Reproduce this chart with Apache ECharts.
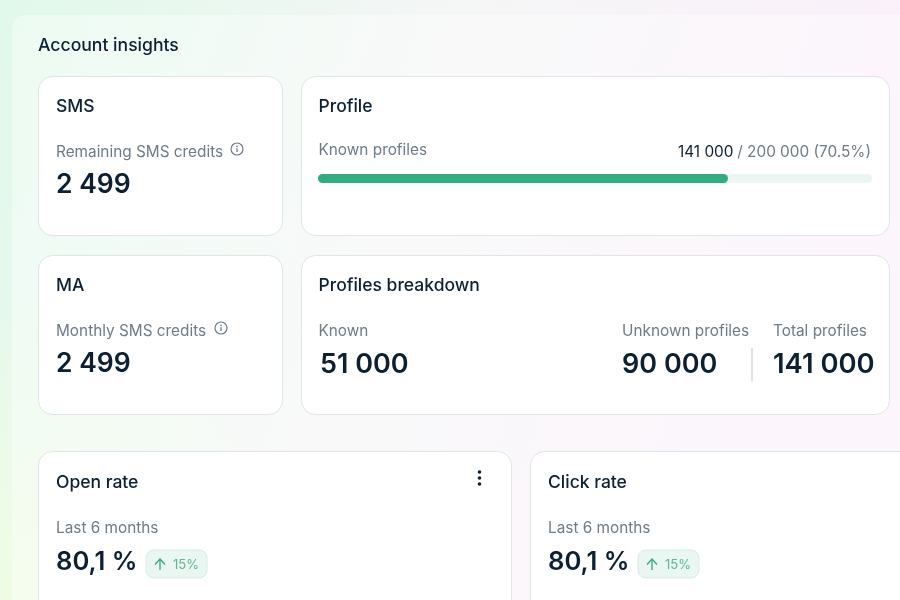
<!DOCTYPE html>
<html>
<head>
<meta charset="utf-8">
<title>Account insights</title>
<style>
html, body { margin: 0; padding: 0; background: #fff; }
#chart { width: 900px; height: 600px; }
</style>
<script src="https://cdn.jsdelivr.net/npm/echarts@6/dist/echarts.min.js"></script>
</head>
<body>
<div id="chart"></div>
<script>
var progressCategories = ['Known profiles'];
// the bar in the picture ends at about 74% of its track, not at the 70.5% it prints
var progressBarValues = [148000];
var progressTrackValues = [200000];

var smsCredits = '2 499';
var maCredits = '2 499';
var profileSummary = ['141 000', '/ 200 000 (70.5%)'];
var breakdownLabels = ['Known', 'Unknown profiles', 'Total profiles'];
var breakdownValues = ['51 000', '90 000', '141 000'];
var rateTitles = ['Open rate', 'Click rate'];
var rateValues = ['80,1 %', '80,1 %'];
var rateChanges = ['15%', '15%'];

var FONT = 'Inter';
var DARK = '#0c1f33';
var GRAY = '#6e7b88';

var chart = echarts.init(document.getElementById('chart'));

function label(x, y, str, size, color, weight, align) {
    return {
        type: 'text',
        z: 5,
        style: {
            x: x, y: y, text: str,
            fontFamily: FONT, fontSize: size, fontWeight: weight || 400,
            fill: color, textAlign: align || 'left', textVerticalAlign: 'middle'
        }
    };
}

function card(x, y, w, h) {
    return {
        type: 'rect',
        z: 2,
        shape: { x: x, y: y, width: w, height: h, r: 14 },
        style: { fill: '#fff', stroke: '#dfe4e8', lineWidth: 1 }
    };
}

function infoIcon(x, y) {
    return [
        { type: 'circle', z: 5, shape: { cx: x, cy: y, r: 6 }, style: { fill: 'none', stroke: '#6e7b88', lineWidth: 1.2 } },
        { type: 'circle', z: 5, shape: { cx: x, cy: y - 2.6, r: 0.8 }, style: { fill: '#6e7b88' } },
        { type: 'line', z: 5, shape: { x1: x, y1: y - 0.8, x2: x, y2: y + 3 }, style: { stroke: '#6e7b88', lineWidth: 1.3 } }
    ];
}

function badge(x, y, str) {
    return [
        { type: 'rect', z: 5, shape: { x: x, y: y, width: 61, height: 28, r: 8 }, style: { fill: '#e9f6f1', stroke: '#d6ece3', lineWidth: 1 } },
        { type: 'polyline', z: 6, shape: { points: [[x + 9, y + 14.5], [x + 14, y + 9], [x + 19, y + 14.5]] }, style: { fill: 'none', stroke: '#3aa77f', lineWidth: 1.3 } },
        { type: 'line', z: 6, shape: { x1: x + 14, y1: y + 9, x2: x + 14, y2: y + 20 }, style: { stroke: '#3aa77f', lineWidth: 1.3 } },
        label(x + 27, y + 15, str, 13, '#5db894')
    ];
}

var elements = [
    {
        type: 'rect', z: 0,
        shape: { x: 0, y: 300, width: 500, height: 300 },
        style: {
            fill: {
                type: 'radial', x: 0, y: 1, r: 1,
                colorStops: [
                    { offset: 0, color: 'rgba(240,253,226,0.9)' },
                    { offset: 1, color: 'rgba(240,253,226,0)' }
                ]
            }
        }
    },
    {
        type: 'rect', z: 1,
        shape: { x: 12, y: 15, width: 920, height: 620, r: 14 },
        style: { fill: 'rgba(255,255,255,0.38)' }
    },
    label(38, 46, 'Account insights', 17.6, DARK, 500),

    card(38.5, 76.5, 244, 159),
    card(301.5, 76.5, 588, 159),
    card(38.5, 255.5, 244, 159),
    card(301.5, 255.5, 588, 159),
    card(38.5, 451.5, 473, 190),
    card(530.5, 451.5, 420, 190),

    label(56, 107, 'SMS', 17.5, DARK, 500),
    label(56, 152, 'Remaining SMS credits', 15.35, GRAY),
    label(56, 185.5, smsCredits, 26.5, DARK, 600),

    label(318.5, 107, 'Profile', 17.5, DARK, 500),
    label(318.5, 150, progressCategories[0], 15.35, GRAY),
    label(678, 152, profileSummary[0], 15.35, DARK),
    label(871, 152, profileSummary[1], 15.35, GRAY, 400, 'right'),

    label(56, 286, 'MA', 17.5, DARK, 500),
    label(56, 331, 'Monthly SMS credits', 15.35, GRAY),
    label(56, 364.5, maCredits, 26.5, DARK, 600),

    label(318.5, 286, 'Profiles breakdown', 17.5, DARK, 500),
    label(318.5, 331, breakdownLabels[0], 15.35, GRAY),
    label(320, 364.5, breakdownValues[0], 27, DARK, 600),
    label(622, 331, breakdownLabels[1], 15.35, GRAY),
    label(622, 364.5, breakdownValues[1], 27, DARK, 600),
    label(773, 331, breakdownLabels[2], 15.35, GRAY),
    label(773, 364.5, breakdownValues[2], 27.4, DARK, 600),
    { type: 'line', z: 5, shape: { x1: 752, y1: 348, x2: 752, y2: 381 }, style: { stroke: '#dfe3e7', lineWidth: 2 } },

    label(56, 483, rateTitles[0], 17.5, DARK, 500),
    label(56, 528, 'Last 6 months', 15.35, GRAY),
    label(56, 562, rateValues[0], 25.6, DARK, 600),
    { type: 'circle', z: 5, shape: { cx: 479.5, cy: 472, r: 1.8 }, style: { fill: DARK } },
    { type: 'circle', z: 5, shape: { cx: 479.5, cy: 478, r: 1.8 }, style: { fill: DARK } },
    { type: 'circle', z: 5, shape: { cx: 479.5, cy: 484, r: 1.8 }, style: { fill: DARK } },

    label(548, 483, rateTitles[1], 17.5, DARK, 500),
    label(548, 528, 'Last 6 months', 15.35, GRAY),
    label(548, 562, rateValues[1], 25.6, DARK, 600)
];

elements = elements.concat(
    infoIcon(237, 149),
    infoIcon(221, 328),
    badge(146, 550, rateChanges[0]),
    badge(638, 550, rateChanges[1])
);

chart.setOption({
    animation: false,
    backgroundColor: {
        type: 'linear',
        x: 0, y: 0, x2: 1, y2: 0.55,
        colorStops: [
            { offset: 0, color: '#e0f9ea' },
            { offset: 0.45, color: '#f5f6f6' },
            { offset: 1, color: '#fbeffb' }
        ]
    },
    graphic: { elements: elements },
    grid: { left: 318, top: 174, width: 554, height: 9 },
    xAxis: { type: 'value', min: 0, max: 200000, show: false },
    yAxis: { type: 'category', data: progressCategories, show: false },
    series: [
        {
            name: 'Total',
            type: 'bar',
            data: progressTrackValues,
            barWidth: 9,
            barGap: '-100%',
            z: 3,
            silent: true,
            itemStyle: { color: '#ebf5f2', borderRadius: 5 }
        },
        {
            name: 'Known',
            type: 'bar',
            data: progressBarValues,
            barWidth: 9,
            z: 4,
            itemStyle: { color: '#33ab80', borderRadius: 5 }
        }
    ]
});
</script>
</body>
</html>
